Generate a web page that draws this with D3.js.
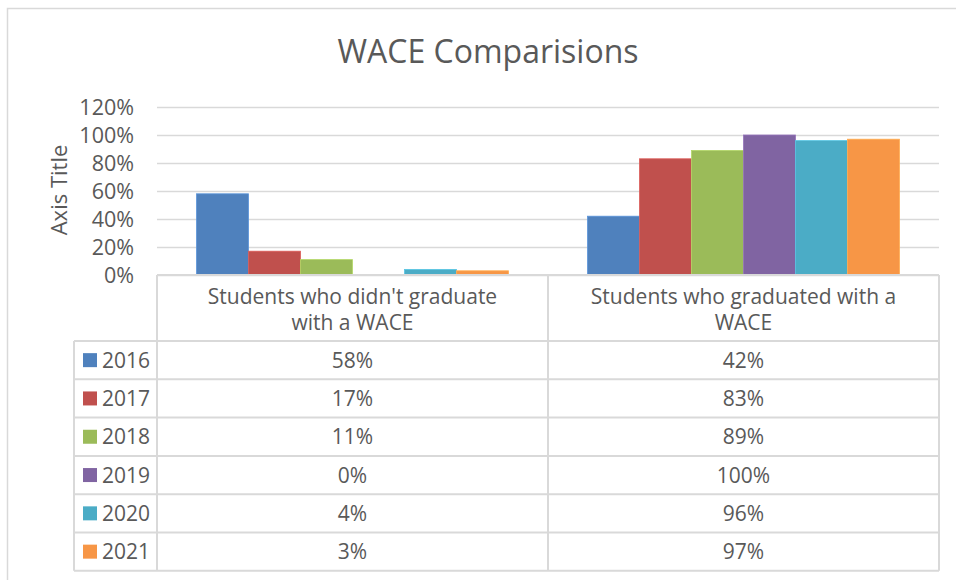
<!DOCTYPE html>
<html>
<head>
<meta charset="utf-8">
<script src="https://cdn.jsdelivr.net/npm/d3@7"></script>
<style>
	html, body { margin: 0; padding: 0; background: #fff; }
	text { font-family: "Open Sans", sans-serif; fill: #595959; }
</style>
</head>
<body>
<div id="chart"></div>
<script>
// data
const categories = ["Students who didn't graduate with a WACE", 'Students who graduated with a WACE'];
const categoryLines = [["Students who didn't graduate", 'with a WACE'], ['Students who graduated with a', 'WACE']];
const years = ['2016', '2017', '2018', '2019', '2020', '2021'];
const notGraduated = [58, 17, 11, 0, 4, 3];
const graduated = [42, 83, 89, 100, 96, 97];
const yTicks = [0, 20, 40, 60, 80, 100, 120];
const colors = ['#4F81BD', '#C0504D', '#9BBB59', '#8064A2', '#4BACC6', '#F79646'];

const W = 956, H = 580;
const plot = { left: 157, right: 939, top: 107, bottom: 275 };
const rowH = 38.3, headH = 66, legendLeft = 74;
const gridColor = '#D9D9D9';

const svg = d3.select('#chart').append('svg')
	.attr('width', W)
	.attr('height', H);

// outer chart border
svg.append('rect')
	.attr('x', 7.5).attr('y', 8.5)
	.attr('width', W + 20).attr('height', H + 20)
	.attr('fill', 'none')
	.attr('stroke', gridColor)
	.attr('stroke-width', 1.5);

// title
svg.append('text')
	.attr('x', 488).attr('y', 63)
	.attr('text-anchor', 'middle')
	.style('font-size', '32px')
	.text('WACE Comparisions');

// scales
const x0 = d3.scaleBand().domain(categories).range([plot.left, plot.right]);
const x1 = d3.scaleBand().domain(years).range([0, x0.bandwidth()]).paddingOuter(0.76);
const y = d3.scaleLinear().domain([0, 120]).range([plot.bottom, plot.top]);

// y axis + gridlines
const yAxis = svg.append('g')
	.attr('transform', `translate(${plot.left},0)`)
	.call(d3.axisLeft(y).tickValues(yTicks).tickSize(-(plot.right - plot.left)).tickPadding(23).tickFormat(d => d + '%'));
yAxis.select('.domain').remove();
yAxis.selectAll('.tick line').attr('stroke', gridColor).attr('stroke-width', 1.5);
yAxis.selectAll('.tick text')
	.attr('fill', '#595959')
	.style('font-size', '21.5px')
	.style('font-family', '"Open Sans", sans-serif')
	.attr('dy', '0.36em');

// axis title
svg.append('text')
	.attr('transform', 'translate(67,190) rotate(-90)')
	.attr('text-anchor', 'middle')
	.style('font-size', '22px')
	.text('Axis Title');

// bars
const series = years.map((yr, i) => ({ year: yr, color: colors[i], values: [notGraduated[i], graduated[i]] }));
const barG = svg.append('g');
series.forEach(s => {
	barG.selectAll(null)
		.data(s.values.map((v, ci) => ({ cat: categories[ci], v })))
		.enter()
		.append('rect')
		.attr('x', d => x0(d.cat) + x1(s.year))
		.attr('y', d => y(d.v))
		.attr('width', x1.bandwidth())
		.attr('height', d => y(0) - y(d.v))
		.attr('fill', s.color)
		.attr('stroke', d3.color(s.color).brighter(0.4))
		.attr('stroke-width', 0.8);
});

// data table
const table = svg.append('g');
const tableTop = plot.bottom, rowsTop = plot.bottom + headH;
const tableBottom = rowsTop + rowH * years.length;

const hLine = (x1p, x2p, yp) => table.append('line')
	.attr('x1', x1p).attr('x2', x2p).attr('y1', yp).attr('y2', yp)
	.attr('stroke', gridColor).attr('stroke-width', 2);
const vLine = (xp, y1p, y2p) => table.append('line')
	.attr('x1', xp).attr('x2', xp).attr('y1', y1p).attr('y2', y2p)
	.attr('stroke', gridColor).attr('stroke-width', 2);

hLine(plot.left, plot.right, tableTop);
years.forEach((yr, i) => hLine(legendLeft, plot.right, rowsTop + rowH * i));
hLine(legendLeft, plot.right, tableBottom);
vLine(legendLeft, rowsTop, tableBottom);
vLine(plot.left, tableTop, tableBottom);
categories.forEach(c => vLine(x0(c) + x0.bandwidth(), tableTop, tableBottom));

// header labels
categories.forEach((c, ci) => {
	const t = table.append('text')
		.attr('x', x0(c) + x0.bandwidth() / 2)
		.attr('y', tableTop + 29)
		.attr('text-anchor', 'middle')
		.style('font-size', '21px');
	categoryLines[ci].forEach((ln, li) => {
		t.append('tspan')
			.attr('x', x0(c) + x0.bandwidth() / 2)
			.attr('dy', li === 0 ? 0 : 26)
			.text(ln);
	});
});

// rows
series.forEach((s, i) => {
	const cy = rowsTop + rowH * i + rowH / 2;
	table.append('rect')
		.attr('x', 83).attr('y', cy - 7)
		.attr('width', 14).attr('height', 14)
		.attr('fill', s.color);
	table.append('text')
		.attr('x', 102).attr('y', cy)
		.attr('dy', '0.36em')
		.style('font-size', '21px')
		.text(s.year);
	s.values.forEach((v, ci) => {
		table.append('text')
			.attr('x', x0(categories[ci]) + x0.bandwidth() / 2)
			.attr('y', cy)
			.attr('dy', '0.36em')
			.attr('text-anchor', 'middle')
			.style('font-size', '21px')
			.text(v + '%');
	});
});
</script>
</body>
</html>
